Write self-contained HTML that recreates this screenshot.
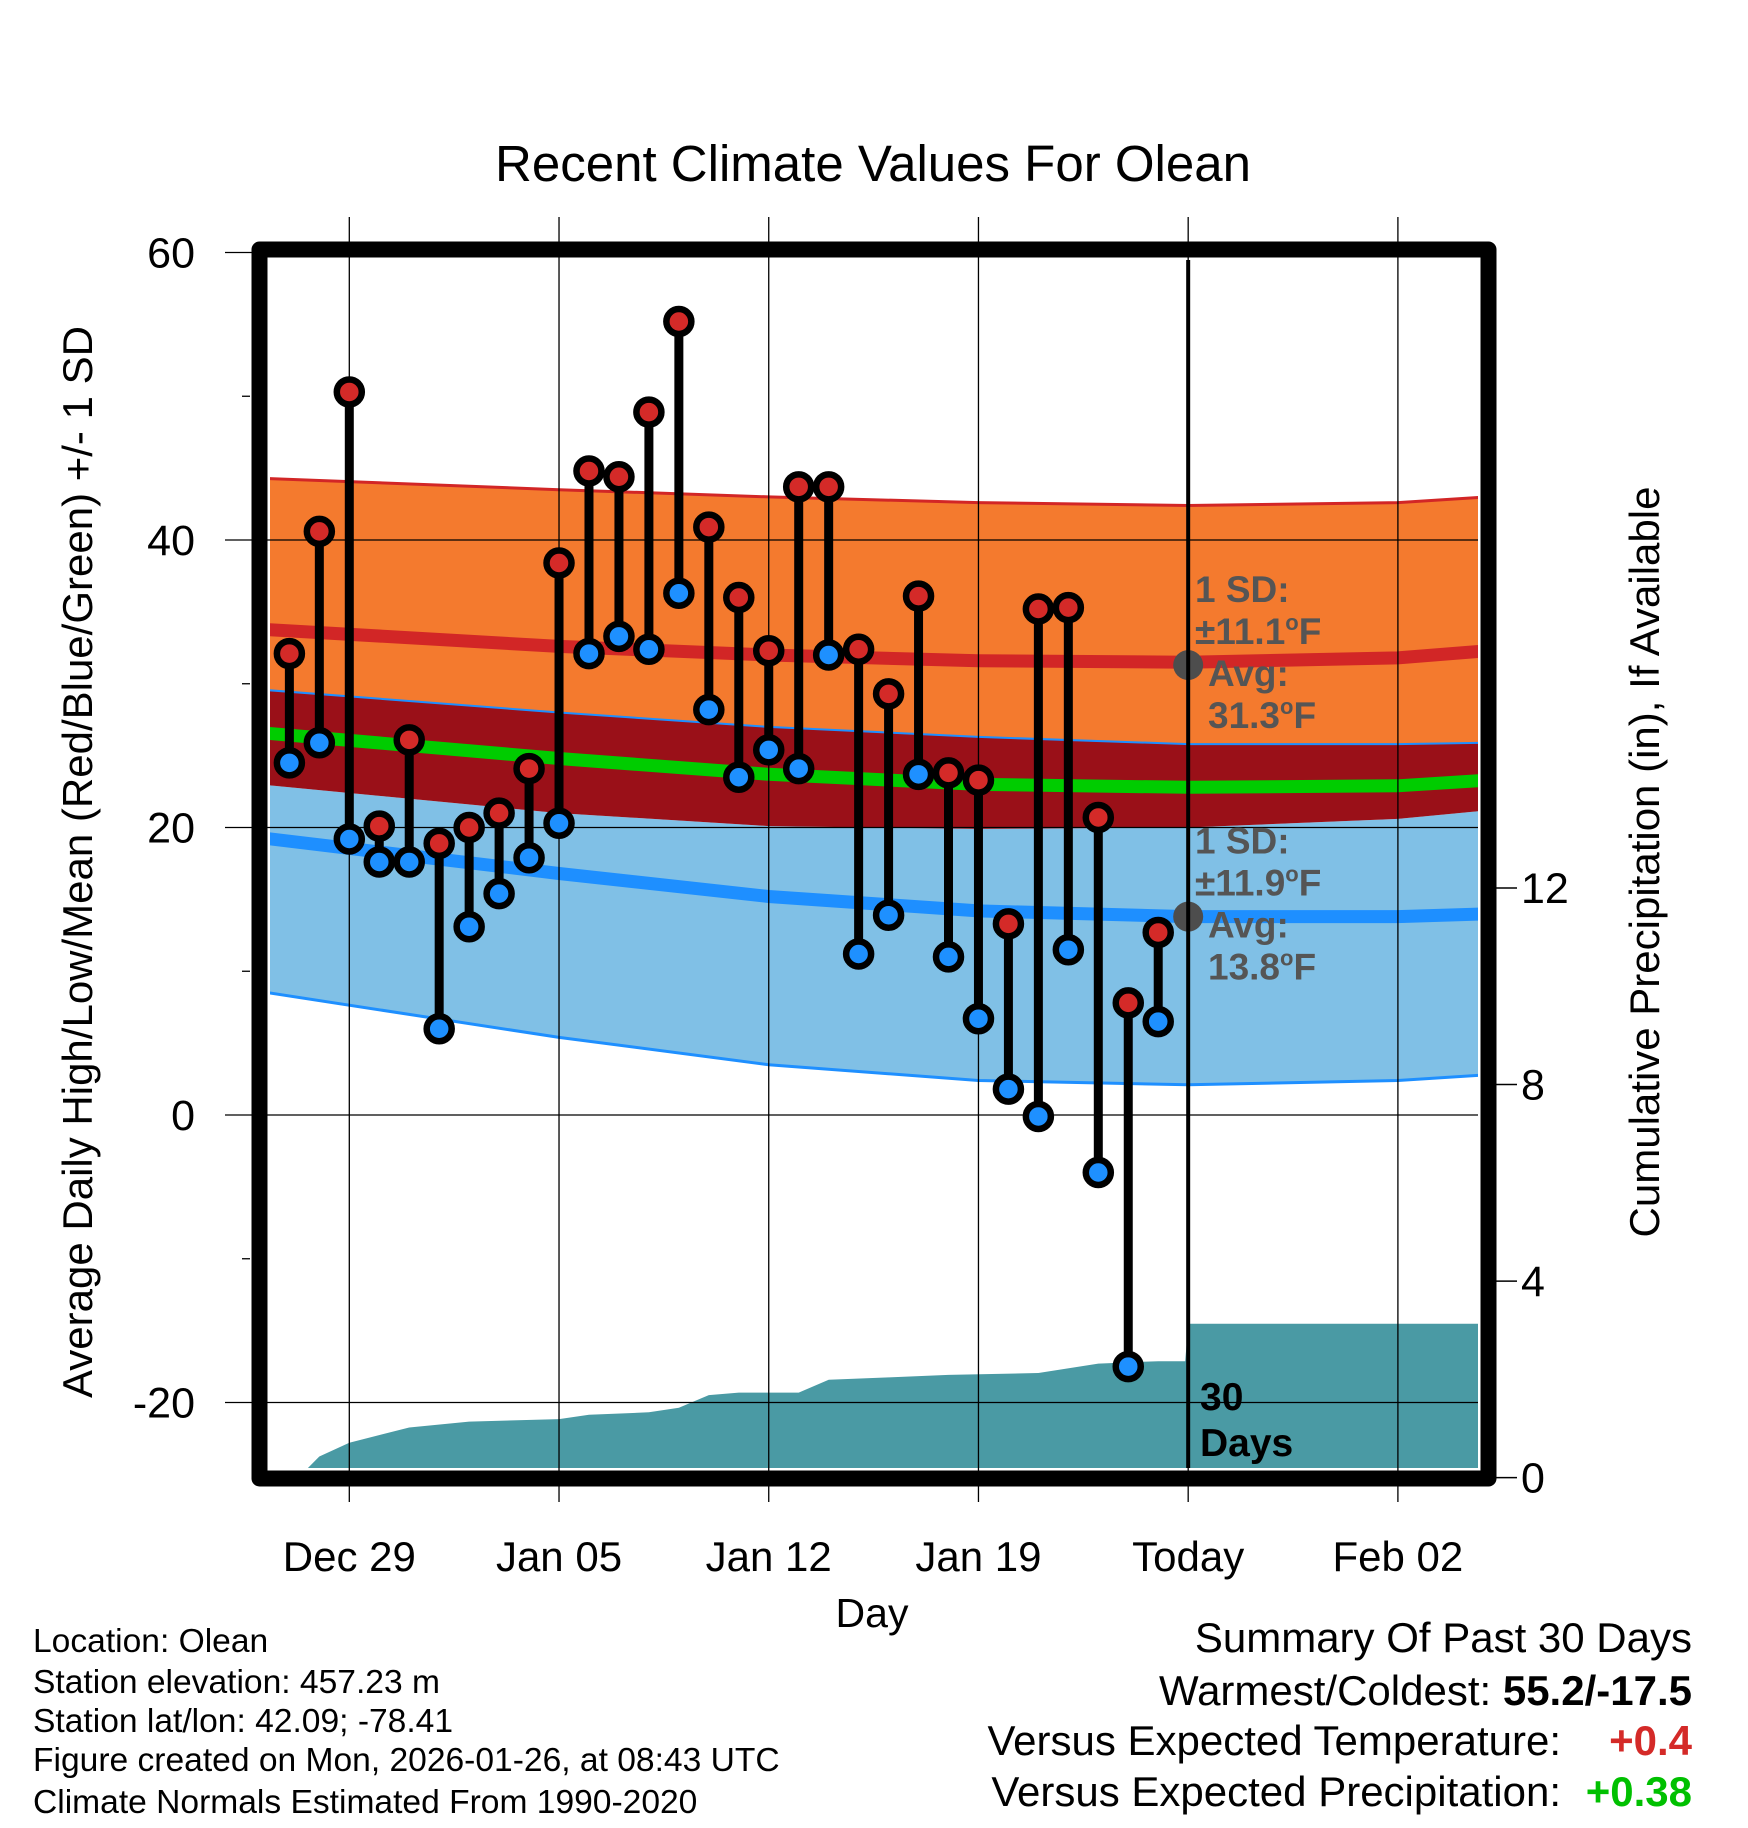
<!DOCTYPE html>
<html><head><meta charset="utf-8"><style>
html,body{margin:0;padding:0;background:#fff}
svg{display:block;font-family:"Liberation Sans",Arial,sans-serif}
</style></head><body>
<svg id="chart" width="1748" height="1828" viewBox="0 0 1748 1828" xmlns="http://www.w3.org/2000/svg">
<text x="873" y="181" font-size="51" text-anchor="middle">Recent Climate Values For Olean</text>
<g id="bands"></g>
<g id="precip"></g>
<g id="grid"></g>
<g id="stems"></g>
<g id="annot"></g>
<g id="axes"></g>
<text transform="translate(92,862) rotate(-90)" font-size="42" text-anchor="middle">Average Daily High/Low/Mean (Red/Blue/Green) +/- 1 SD</text>
<text transform="translate(1659,862) rotate(-90)" font-size="42" text-anchor="middle">Cumulative Precipitation (in), If Available</text>
<text x="872" y="1627" font-size="41" text-anchor="middle">Day</text>
<g font-size="33.6">
<text x="33" y="1652">Location: Olean</text>
<text x="33" y="1693">Station elevation: 457.23 m</text>
<text x="33" y="1732">Station lat/lon: 42.09; -78.41</text>
<text x="33" y="1771">Figure created on Mon, 2026-01-26, at 08:43 UTC</text>
<text x="33" y="1813">Climate Normals Estimated From 1990-2020</text>
</g>
<g font-size="42" text-anchor="end">
<text x="1692" y="1652">Summary Of Past 30 Days</text>
<text x="1692" y="1705">Warmest/Coldest: <tspan font-weight="bold">55.2/-17.5</tspan></text>
<text x="1561" y="1755">Versus Expected Temperature:</text>
<text x="1692" y="1755" font-weight="bold" fill="#d42a28">+0.4</text>
<text x="1561" y="1806">Versus Expected Precipitation:</text>
<text x="1692" y="1806" font-weight="bold" fill="#00c000">+0.38</text>
</g>
</svg>
<script>
const days=[-2,-1,0,1,2,3,4,5,6,7,8,9,10,11,12,13,14,15,16,17,18,19,20,21,22,23,24,25,26,27];
const highs=[32.1,40.6,50.3,20.1,26.1,18.9,20.0,21.0,24.1,38.4,44.8,44.4,48.9,55.2,40.9,36.0,32.3,43.7,43.7,32.4,29.3,36.1,23.8,23.3,13.3,35.2,35.3,20.7,7.8,12.7];
const lows=[24.5,25.9,19.2,17.6,17.6,6.0,13.1,15.4,17.9,20.3,32.1,33.3,32.4,36.3,28.2,23.5,25.4,24.1,32.0,11.2,13.9,23.7,11.0,6.7,1.8,-0.1,11.5,-4.0,-17.5,6.5];
const normDays=[-3,7,14,21,28,35,38];
const highUpper=[44.3,43.5,43.0,42.6,42.4,42.6,43.0];
const highMean=[33.8,32.6,32.0,31.6,31.5,31.8,32.3];
const highLower=[29.6,28.0,27.0,26.3,25.8,25.8,25.9];
const lowUpper=[23.0,21.0,20.1,19.9,20.0,20.6,21.2];
const lowMean=[19.3,16.8,15.2,14.2,13.8,13.8,14.0];
const lowLower=[8.6,5.4,3.5,2.4,2.1,2.4,2.8];
const meanT=[26.6,24.8,23.7,23.0,22.8,22.9,23.3];
const precipDays=[-1.7,-1,0,2,4,7,8,10,11,12,13,15,16,18,20,23,25,27,27.9,28,38];
const precipVals=[0,0.43,0.71,1.02,1.14,1.19,1.28,1.33,1.42,1.68,1.73,1.73,1.99,2.04,2.09,2.13,2.32,2.37,2.37,3.13,3.13];
const xTickDays=[0,7,14,21,28,35];
const xTickLabels=["Dec 29","Jan 05","Jan 12","Jan 19","Today","Feb 02"];
const yTicks=[60,40,20,0,-20];
const yMinor=[50,30,10,-10];
const y2Ticks=[0,4,8,12];

const NS="http://www.w3.org/2000/svg";
const L=270,R=1478,T=260,B=1468;
const X=d=>349.3+d*29.96;
const Y=v=>1115-v*14.375;
const Y2=p=>1477.6-p*49.13;
function mk(tag,attrs,parent){const e=document.createElementNS(NS,tag);for(const k in attrs)e.setAttribute(k,attrs[k]);parent.appendChild(e);return e;}
const svg=document.getElementById('chart');
const defs=mk('defs',{},svg);
const cp=mk('clipPath',{id:'pc'},defs);mk('rect',{x:L,y:T,width:R-L,height:B-T},cp);

function linePts(arr){return normDays.map((d,i)=>X(d).toFixed(1)+','+Y(arr[i]).toFixed(1));}
function band(up,lo,fill,name){const p=linePts(up).concat(linePts(lo).reverse());const e=mk('polygon',{points:p.join(' '),fill:fill,'clip-path':'url(#pc)'},document.getElementById('bands'));

}
function line(arr,col,w,name){const e=mk('polyline',{points:linePts(arr).join(' '),fill:'none',stroke:col,'stroke-width':w,'clip-path':'url(#pc)'},document.getElementById('bands'));

}
band(highUpper,highLower,'#f47a2e','high-sd-band');
band(lowUpper,lowLower,'#80c0e6','low-sd-band');
band(highLower,lowUpper,'#9a1018','gap-band');
line(highUpper,'#d22626',3,'high-upper-line');
line(highLower,'#1e8fff',2,'high-lower-line');
line(lowLower,'#1e8fff',3,'low-lower-line');
line(highMean,'#d22626',13,'high-mean-line');
line(lowMean,'#1e8fff',13,'low-mean-line');
line(meanT,'#00cc00',13,'mean-line');

const pp=precipDays.map((d,i)=>X(d).toFixed(1)+','+Y2(precipVals[i]).toFixed(1));
pp.push(X(38)+','+B,X(-1.7)+','+B);
const pa=mk('polygon',{points:pp.join(' '),fill:'#4a9aa4','clip-path':'url(#pc)'},document.getElementById('precip'));



const g=document.getElementById('grid');
xTickDays.forEach(d=>{const e=mk('line',{x1:X(d),x2:X(d),y1:217,y2:1502,stroke:'#000','stroke-width':1.3},g);

});
yTicks.forEach(v=>{const e=mk('line',{x1:225,x2:R,y1:Y(v),y2:Y(v),stroke:'#000','stroke-width':1.3},g);

});

const s=document.getElementById('stems');
days.forEach((d,i)=>{const x=X(d);
const st=mk('line',{x1:x,x2:x,y1:Y(highs[i]),y2:Y(lows[i]),stroke:'#000','stroke-width':9},s);

});
days.forEach((d,i)=>{const x=X(d);
const h=mk('circle',{cx:x,cy:Y(highs[i]),r:12.5,fill:'#d42a28',stroke:'#000','stroke-width':6.5},s);


const l=mk('circle',{cx:x,cy:Y(lows[i]),r:12.5,fill:'#1e90ff',stroke:'#000','stroke-width':6.5},s);

});

const tl=mk('line',{x1:X(28),x2:X(28),y1:T,y2:B,stroke:'#000','stroke-width':4},svg);



const a=document.getElementById('annot');
[[31.3,'±11.1','31.3'],[13.8,'±11.9','13.8']].forEach(([v,sd,avg])=>{
const c=mk('circle',{cx:X(28),cy:Y(v),r:15,fill:'#4d4d4d'},a);


const y0=Y(v)-63;
const t=mk('text',{x:1195,y:y0,'font-size':37,'font-weight':'bold',fill:'#555'},a);


t.innerHTML=`<tspan x="1195">1 SD:</tspan><tspan x="1195" dy="42">${sd}<tspan font-size="22" dy="-14">o</tspan><tspan dy="14">F</tspan></tspan><tspan x="1208" dy="42">Avg:</tspan><tspan x="1208" dy="42">${avg}<tspan font-size="22" dy="-14">o</tspan><tspan dy="14">F</tspan></tspan>`;});
const dl=mk('text',{x:1200,y:1410,'font-size':39,'font-weight':'bold'},a);


dl.innerHTML='<tspan x="1200">30</tspan><tspan x="1200" dy="46">Days</tspan>';

const ax=document.getElementById('axes');
const fr=mk('rect',{x:259.5,y:249.5,fill:'none',stroke:'#000','stroke-width':16,'stroke-linejoin':'round'},ax);
fr.setAttribute('width',R-L+21);fr.setAttribute('height',B-T+21);


yTicks.forEach(v=>{const t=mk('text',{x:195,y:Y(v)+15,'font-size':43,'text-anchor':'end'},ax);t.textContent=v;

});
yMinor.forEach(v=>{const e=mk('line',{x1:242,x2:250,y1:Y(v),y2:Y(v),stroke:'#000','stroke-width':1.3},ax);

});
xTickDays.forEach((d,i)=>{const t=mk('text',{x:X(d),y:1571,'font-size':42,'text-anchor':'middle'},ax);t.textContent=xTickLabels[i];

});
y2Ticks.forEach(p=>{const e=mk('line',{x1:1490,x2:1517,y1:Y2(p),y2:Y2(p),stroke:'#000','stroke-width':1.5},ax);


const t=mk('text',{x:1521,y:Y2(p)+15,'font-size':43},ax);t.textContent=p;

});
</script>
</body></html>
